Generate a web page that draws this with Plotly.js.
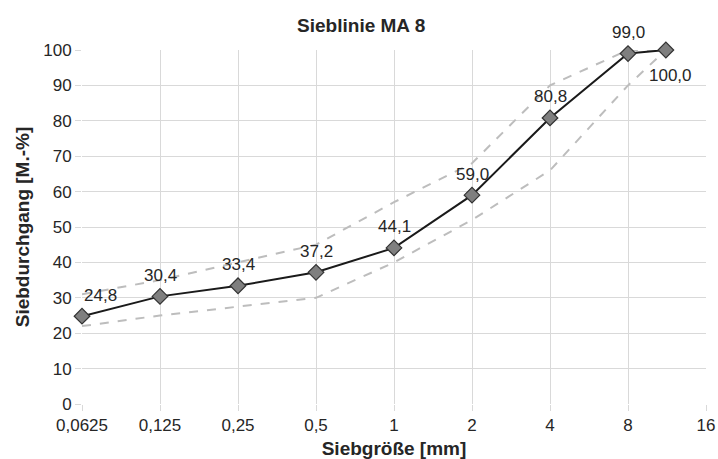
<!DOCTYPE html>
<html>
<head>
<meta charset="utf-8">
<script src="https://cdn.plot.ly/plotly-3.0.1.min.js"></script>
<style>html,body{margin:0;padding:0;background:#fff}#chart{width:718px;height:459px}</style>
</head>
<body>
<div id="chart"></div>
<script>
// Sieve sizes [mm]
const sizes = [0.0625, 0.125, 0.25, 0.5, 1, 2, 4, 8, 11.2];
// Measured passing [M.-%]
const passing = [24.8, 30.4, 33.4, 37.2, 44.1, 59.0, 80.8, 99.0, 100.0];
// Upper and lower grading limits
const upperLimit = [31, 35, 40, 45, 57, 68, 90, 100, 100];
const lowerLimit = [22, 25, 27.5, 30, 40, 52, 66, 90, 100];
// Axis ticks
const tickVals = [0.0625, 0.125, 0.25, 0.5, 1, 2, 4, 8, 16];
const tickText = ["0,0625", "0,125", "0,25", "0,5", "1", "2", "4", "8", "16"];

const FONT = '"Liberation Sans", Arial, sans-serif';
const TXT = '#262626';
const fmt = v => v.toFixed(1).replace('.', ',');

const traces = [
  {x: sizes, y: upperLimit, mode: 'lines', cliponaxis: false, line: {color: '#bdbdbd', width: 2, dash: 'dash'}, hoverinfo: 'skip'},
  {x: sizes, y: lowerLimit, mode: 'lines', cliponaxis: false, line: {color: '#bdbdbd', width: 2, dash: 'dash'}, hoverinfo: 'skip'},
  {x: sizes, y: passing, mode: 'lines+markers', cliponaxis: false, line: {color: '#1a1a1a', width: 2},
   marker: {symbol: 'diamond', size: 12, color: '#7f7f7f', line: {color: '#333', width: 1.2}}}
];

const annotations = sizes.map((s, i) => {
  const last = i === sizes.length - 1;
  const first = i === 0;
  return {
    x: Math.log10(s), y: passing[i], xref: 'x', yref: 'y',
    text: fmt(passing[i]), showarrow: false,
    xanchor: first ? 'left' : 'center', yanchor: 'middle',
    xshift: last ? 5 : 0,
    yshift: last ? -25 : 21,
    font: {family: FONT, size: 17, color: TXT}
  };
});

const layout = {
  width: 718, height: 459,
  margin: {l: 82, r: 12, t: 50, b: 55},
  paper_bgcolor: '#fff', plot_bgcolor: '#fff',
  showlegend: false,
  font: {family: FONT, color: TXT, size: 17},
  title: {text: '<b>Sieblinie MA 8</b>', x: 0.503, xanchor: 'center', y: 0.945, yanchor: 'middle',
          font: {family: FONT, size: 19, color: TXT}},
  xaxis: {
    type: 'log', range: [Math.log10(0.0625), Math.log10(16)],
    tickmode: 'array', tickvals: tickVals, ticktext: tickText,
    showgrid: true, gridcolor: '#d9d9d9', gridwidth: 1,
    ticks: 'outside', ticklen: 6, tickcolor: '#d9d9d9',
    zeroline: false, showline: false,
    tickfont: {family: FONT, size: 17, color: TXT},
    title: {text: '<b>Siebgröße [mm]</b>', standoff: 11, font: {family: FONT, size: 19, color: TXT}}
  },
  yaxis: {
    range: [0, 100], dtick: 10, tick0: 0,
    showgrid: true, gridcolor: '#d9d9d9', gridwidth: 1,
    ticks: 'outside', ticklen: 6, tickcolor: '#d9d9d9',
    zeroline: false, showline: false,
    tickfont: {family: FONT, size: 17, color: TXT},
    title: {text: '<b>Siebdurchgang [M.-%]</b>', standoff: 8, font: {family: FONT, size: 19, color: TXT}}
  },
  annotations: annotations
};

Plotly.newPlot('chart', traces, layout, {displayModeBar: false, staticPlot: true});
</script>
</body>
</html>
